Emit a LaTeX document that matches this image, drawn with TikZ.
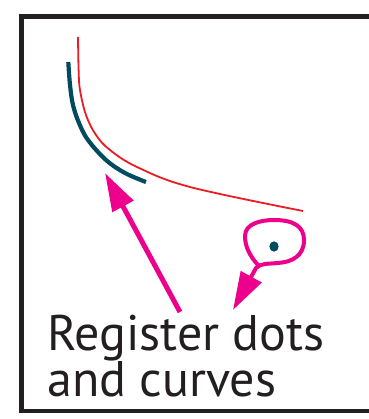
\documentclass[tikz,border=0pt]{standalone}
\usepackage{fontspec}
\setmainfont{PT Sans}
\usetikzlibrary{arrows.meta}
\definecolor{framec}{HTML}{231F20}
\definecolor{redc}{HTML}{ED1C24}
\definecolor{tealc}{HTML}{004B5E}
\definecolor{pinkc}{HTML}{EC008C}
\tikzset{
  frameline/.style={draw=framec, line width=4.6pt, line join=miter},
  redcurve/.style={draw=redc, line width=1.8pt},
  tealcurve/.style={draw=tealc, line width=4.2pt},
  pinkarrow/.style={draw=pinkc, line width=5pt, -{Triangle[length=38pt,width=23pt]}},
  pinkloop/.style={draw=pinkc, line width=4pt, -{Triangle[length=38pt,width=23pt]}},
  label/.style={inner sep=0pt, anchor=base west, text=framec, align=left, font=\fontsize{50}{45}\selectfont}
}
\begin{document}
\begin{tikzpicture}[x=1pt,y=-1pt]
\useasboundingbox (0,0) rectangle (368,419);
% frame (open on the right)
\draw[frameline] (372,16.3) -- (21.5,16.3) -- (21.5,411) -- (372,411);
% red curve
\draw[redcurve] plot[smooth, tension=0.6] coordinates {(78,37) (78.6,70) (80,90) (86,115) (96,135) (110,150) (137,167) (190,187) (303,211)};
% teal curve
\draw[tealcurve] plot[smooth, tension=0.6] coordinates {(68.3,62) (70,85) (73,105) (79,123) (88,140) (106,160) (125,173) (146,182)};
% dot
\fill[tealc] (274,246.5) ellipse (4.6pt and 5.2pt);
% coordinates for the pointers
\coordinate (tipA) at (105,173);
\coordinate (tailA) at (180,312);
\coordinate (tipB) at (233,310);
% pointer to the curves
\draw[pinkarrow] (tailA) -- (tipA);
% loop around the dot, with pointer
\draw[pinkloop] (258,265) .. controls (250,256) and (245,247) .. (245,236)
  .. controls (245,224) and (260,220) .. (274,220)
  .. controls (293,220) and (304,226) .. (304,240)
  .. controls (304,256) and (292,262) .. (278,263)
  .. controls (268,264) and (261,263) .. (256,268)
  -- (tipB);
% label
\node[label] (lbl) at (47,396.7) {Register dots\\and curves};
\end{tikzpicture}
\end{document}
